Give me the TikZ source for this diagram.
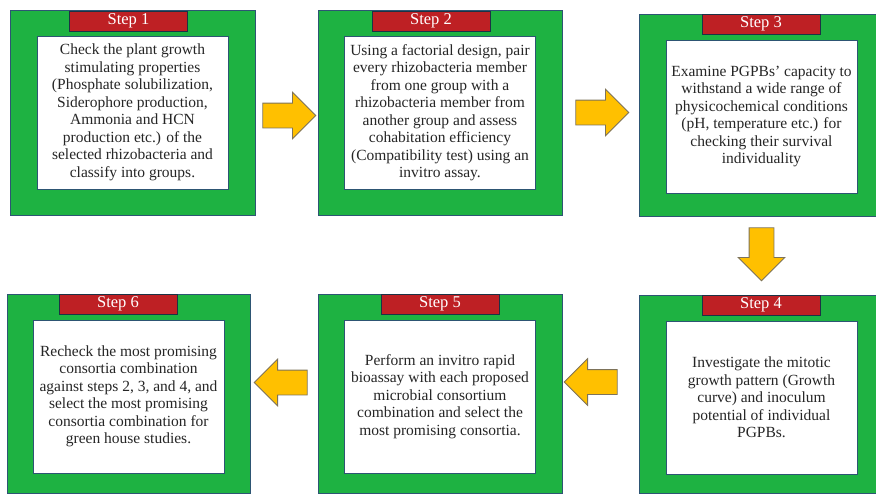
\documentclass[tikz,border=0pt]{standalone}
\usepackage{fontspec}
\setmainfont{Liberation Serif}
\usepackage{tikz}
\usetikzlibrary{positioning, shapes.arrows}
\definecolor{boxgreen}{RGB}{30,178,66}
\definecolor{headred}{RGB}{190,32,36}
\definecolor{edgeblue}{RGB}{45,85,115}
\definecolor{arrowgold}{RGB}{255,192,0}
\definecolor{arrowedge}{RGB}{125,115,90}
\tikzstyle{stepframe} = [rectangle, draw=edgeblue, line width=0.8pt, fill=boxgreen]
\tikzstyle{steptext} = [rectangle, draw=edgeblue, line width=0.8pt, fill=white, align=center, text=black!85, font=\fontsize{15.5}{17.5}\selectfont, inner sep=2pt, minimum width=191pt, minimum height=153pt]
\tikzstyle{stephead} = [rectangle, draw=edgeblue!60!black, line width=0.8pt, fill=headred, text=white, font=\fontsize{16.5}{18}\selectfont, minimum width=118pt, minimum height=20pt, inner sep=0pt]
\tikzstyle{blockarrow} = [single arrow, draw=arrowedge, line width=0.8pt, fill=arrowgold, inner sep=12pt, single arrow head extend=11pt, minimum height=53pt]
\def\gap{26pt}

\begin{document}
\begin{tikzpicture}[x=1pt, y=-1pt]
\useasboundingbox (0,0) rectangle (876,493);

% top row
\node (frame1) [stepframe, minimum width=245pt, minimum height=205pt] at (132.5,112.5) {};
\node (text1) [steptext, below=\gap of frame1.north] {Check the plant growth\\stimulating properties\\(Phosphate solubilization,\\Siderophore production,\\Ammonia and HCN\\production etc.) of the\\selected rhizobacteria and\\classify into groups.};
\node (head1) [stephead, below=1pt of frame1.north, xshift=-4pt] {Step 1};

\node (frame2) [stepframe, minimum width=244pt, minimum height=205pt] at (440,112.5) {};
\node (text2) [steptext, below=\gap of frame2.north] {Using a factorial design, pair\\every rhizobacteria member\\from one group with a\\rhizobacteria member from\\another group and assess\\cohabitation efficiency\\(Compatibility test) using an\\invitro assay.};
\node (head2) [stephead, below=1pt of frame2.north, xshift=-9pt] {Step 2};

\node (frame3) [stepframe, minimum width=237pt, minimum height=202pt] at (757.5,115) {};
\node (text3) [steptext, below=\gap of frame3.north, xshift=4pt] {Examine PGPBs' capacity to\\withstand a wide range of\\physicochemical conditions\\(pH, temperature etc.) for\\checking their survival\\individuality};
\node (head3) [stephead, below=0pt of frame3.north, xshift=3.5pt] {Step 3};

% bottom row
\node (frame4) [stepframe, minimum width=237pt, minimum height=198pt] at (757.5,394) {};
\node (text4) [steptext, below=\gap of frame4.north, xshift=4pt] {Investigate the mitotic\\growth pattern (Growth\\curve) and inoculum\\potential of individual\\PGPBs.};
\node (head4) [stephead, below=0pt of frame4.north, xshift=3.5pt] {Step 4};

\node (frame5) [stepframe, minimum width=244pt, minimum height=199pt] at (440,393.5) {};
\node (text5) [steptext, below=\gap of frame5.north] {Perform an invitro rapid\\bioassay with each proposed\\microbial consortium\\combination and select the\\most promising consortia.};
\node (head5) [stephead, below=0pt of frame5.north] {Step 5};

\node (frame6) [stepframe, minimum width=243pt, minimum height=199pt] at (128.5,393.5) {};
\node (text6) [steptext, below=\gap of frame6.north] {Recheck the most promising\\consortia combination\\against steps 2, 3, and 4, and\\select the most promising\\consortia combination for\\green house studies.};
\node (head6) [stephead, below=0pt of frame6.north, xshift=-10.5pt] {Step 6};

% arrows between steps
\node (arrow12) [blockarrow, right=7pt of frame1, yshift=-3pt] {};
\node (arrow23) [blockarrow, right=13pt of frame2] {};
\node (arrow34) [blockarrow, shape border rotate=270, below=11pt of frame3, xshift=4pt] {};
\node (arrow45) [blockarrow, shape border rotate=180, left=21pt of frame4, yshift=12pt] {};
\node (arrow56) [blockarrow, shape border rotate=180, left=10pt of frame5, yshift=11pt] {};

\end{tikzpicture}
\end{document}
